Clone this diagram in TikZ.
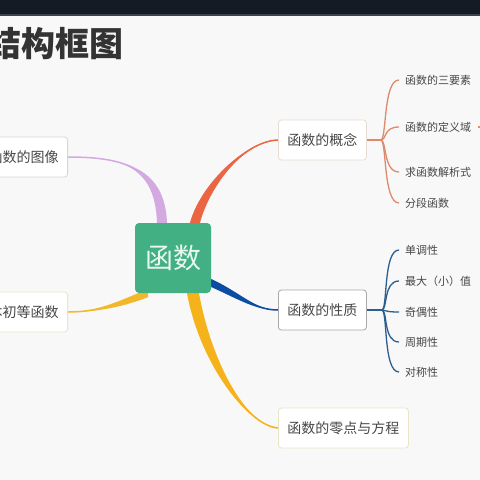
\documentclass[tikz,border=0pt]{standalone}
\usepackage{fontspec}
\setmainfont{Noto Sans CJK SC}
\usetikzlibrary{positioning,calc}

\definecolor{bgcol}{HTML}{F8F8F8}
\definecolor{barcol}{HTML}{131B25}
\definecolor{titlecol}{HTML}{333333}
\definecolor{txtgray}{HTML}{474747}
\definecolor{hubgreen}{HTML}{43B083}
\definecolor{hubtext}{HTML}{E8F8EF}
\definecolor{lilac}{HTML}{D4A9E2}
\definecolor{coral}{HTML}{EC6542}
\definecolor{navy}{HTML}{0B4DA2}
\definecolor{amber}{HTML}{F6B21B}
\definecolor{amberlite}{HTML}{F2B829}
\definecolor{conceptline}{HTML}{DB8A6E}
\definecolor{propline}{HTML}{2B5F8E}
\definecolor{edgegray}{HTML}{D6D6D6}
\definecolor{edgedark}{HTML}{A8A8A8}
\definecolor{edgebeige}{HTML}{E6DCD2}
\definecolor{edgeyel}{HTML}{E9E6C6}

\pgfdeclarelayer{canvas}
\pgfdeclarelayer{background}
\pgfsetlayers{canvas,background,main}

\tikzset{
  topic/.style={draw=#1, fill=white, rounded corners=3pt, line width=0.8pt,
    minimum height=40pt, inner xsep=9pt, text=txtgray,
    font=\fontsize{14}{16}\selectfont},
  hubnode/.style={fill=hubgreen, rounded corners=4pt, minimum width=76pt,
    minimum height=70pt, text=hubtext, font=\fontsize{28}{30}\selectfont},
  subitem/.style={anchor=west, inner xsep=6pt, inner ysep=2pt, text=txtgray,
    font=\fontsize{11}{13}\selectfont},
  twig/.style={line width=1.3pt, #1},
}

% tapered branch: colour, half width, start, control 1, control 2, end
\newcommand{\limb}[6]{%
  \fill[#1] ($#3+#2$) .. controls ($#4+#2$) and #5 .. #6
    .. controls #5 and ($#4-#2$) .. ($#3-#2$) -- cycle;
  \draw[#1, line width=1.5pt] #3 .. controls #4 and #5 .. #6;
}

\begin{document}
\begin{tikzpicture}[x=1pt, y=-1pt]
\useasboundingbox (0,0) rectangle (480,480);
\begin{pgfonlayer}{canvas}
  \fill[bgcol] (0,0) rectangle (480,480);
  \fill[barcol] (0,0) rectangle (480,14);
  \fill[barcol!60!gray] (0,14) rectangle (480,15.5);
\end{pgfonlayer}

\node[anchor=east, inner sep=0pt, text=titlecol,
  font=\fontsize{34}{36}\selectfont\bfseries] (title) at (124,44) {结构框图};

\node[hubnode] (hub) at (173,258) {函数};

\node[topic=edgegray, anchor=east] (tuxiang) at (68,157) {函数的图像};
\node[topic=edgeyel, anchor=east] (chudeng) at (68,312) {基本初等函数};
\node[topic=edgebeige, anchor=west] (gainian) at (278,140) {函数的概念};
\node[topic=edgedark, anchor=west] (xingzhi) at (278,310) {函数的性质};
\node[topic=edgeyel, anchor=west] (lingdian) at (278,428) {函数的零点与方程};

\coordinate (s1) at ($(hub.north)+(-11,0)$);
\coordinate (s2) at ($(hub.north)+(22,0)$);
\coordinate (s3) at ($(hub.east)+(0,25)$);
\coordinate (s4) at ($(hub.south)+(20,0)$);
\coordinate (s5) at ($(hub.south)+(-25,0)$);

\begin{pgfonlayer}{background}
  \limb{lilac}{(5,0)}{(s1)}{(160,168)}{(125,157)}{(tuxiang.east)}
  \limb{coral}{(5,0)}{(s2)}{(205,185)}{(245,141)}{(gainian.west)}
  \limb{navy}{(0,4)}{(s3)}{(240,296)}{(255,310)}{(xingzhi.west)}
  \limb{amber}{(6,0)}{(s4)}{(205,360)}{(245,425)}{(lingdian.west)}
  \limb{amberlite}{(0,4)}{(s5)}{(125,302)}{(100,312)}{(chudeng.east)}
\end{pgfonlayer}

% concept items
\coordinate (jg) at ($(gainian.east)+(14,0)$);
\draw[twig=conceptline] (gainian.east) -- (jg);
\foreach \nm/\y/\txt in {sanyaosu/80/函数的三要素, dingyiyu/127/函数的定义域,
    jiexishi/172/求函数解析式, fenduan/203/分段函数} {
  \node[subitem] (\nm) at (399,\y) {\txt};
  \draw[twig=conceptline] (jg) .. controls +(6,0) and +(-16,0) .. (\nm.west);
}
\coordinate (offframe) at (484,127);
\draw[twig=coral!80!white] ($(dingyiyu.east)+(1,0)$) -- (offframe);

% property items
\coordinate (jx) at ($(xingzhi.east)+(15,0)$);
\draw[twig=propline] (xingzhi.east) -- (jx);
\foreach \nm/\y/\txt in {dantiao/250/单调性, zuizhi/281/最大（小）值,
    jiou/312/奇偶性, zhouqi/342/周期性, duicheng/372/对称性} {
  \node[subitem] (\nm) at (399,\y) {\txt};
  \draw[twig=propline] (jx) .. controls +(6,0) and +(-16,0) .. (\nm.west);
}
\end{tikzpicture}
\end{document}
